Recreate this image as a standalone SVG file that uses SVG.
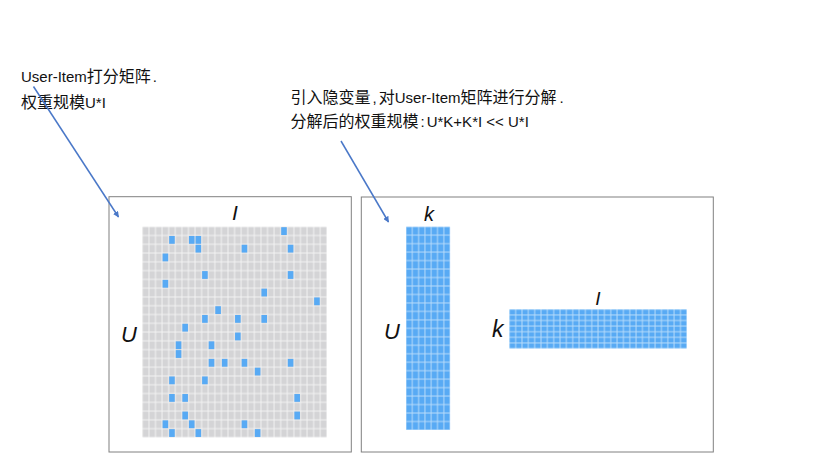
<svg xmlns="http://www.w3.org/2000/svg" width="830" height="463" viewBox="0 0 830 463">
<defs>
<style>
.txt{font-family:"Liberation Sans","Noto Sans CJK SC",sans-serif;font-size:15px;fill:#111}
.cjk{font-size:16px}
.lbl{font-family:"Liberation Sans",sans-serif;font-style:italic;fill:#111}
.box{fill:#fff;stroke:#808080;stroke-width:1}
.conn{stroke:#4a78c8;stroke-width:1.5;fill:none}
.hot{fill:#58aaf4}
</style>
<pattern id="gray" patternUnits="userSpaceOnUse" x="142.3" y="226.7" width="6.59" height="8.78">
<rect x="0.5" y="0.5" width="5.6" height="7.8" fill="#d4d4d6"/>
</pattern>
<pattern id="blueV" patternUnits="userSpaceOnUse" x="406" y="226.7" width="6.3" height="8.47">
<rect x="0.5" y="0.5" width="5.3" height="7.47" fill="#58aaf4"/>
</pattern>
<pattern id="blueH" patternUnits="userSpaceOnUse" x="509.3" y="309.3" width="6.34" height="5.6">
<rect x="0.5" y="0.5" width="5.34" height="4.6" fill="#58aaf4"/>
</pattern>
<marker id="ah" viewBox="0 0 10 10" refX="9" refY="5" markerWidth="6" markerHeight="6" orient="auto" markerUnits="userSpaceOnUse">
<path d="M0,0 L10,5 L0,10 z" fill="#4a78c8"/>
</marker>
</defs>
<rect width="830" height="463" fill="#fff"/>

<g id="note-left">
<text class="txt" x="21" y="82">User-Item<tspan class="cjk">打分矩阵</tspan><tspan dx="2">.</tspan></text>
<text class="txt" x="21" y="108"><tspan class="cjk">权重规模</tspan>U*I</text>
</g>
<g id="note-right">
<text class="txt" x="290.5" y="103"><tspan class="cjk">引入隐变量</tspan><tspan dx="2">,</tspan><tspan class="cjk" dx="2">对</tspan>User-Item<tspan class="cjk">矩阵进行分解</tspan><tspan dx="3">.</tspan></text>
<text class="txt" x="290.5" y="127"><tspan class="cjk">分解后的权重规模</tspan><tspan dx="2">:</tspan><tspan dx="2">U*K+K*I &lt;&lt; U*I</tspan></text>
</g>

<g id="matrix-ui">
<rect class="box" x="109" y="196.7" width="242.3" height="255.3"/>
<rect x="142.3" y="226.7" width="184.5" height="210.7" fill="#f2f2f2"/>
<rect x="142.3" y="226.7" width="184.5" height="210.7" fill="url(#gray)"/>
<g id="hot-cells" transform="translate(142.3,226.7)">
<rect class="hot" x="138.89" y="0.5" width="5.6" height="7.8"/>
<rect class="hot" x="26.86" y="9.28" width="5.6" height="7.8"/>
<rect class="hot" x="46.63" y="9.28" width="5.6" height="7.8"/>
<rect class="hot" x="53.22" y="9.28" width="5.6" height="7.8"/>
<rect class="hot" x="53.22" y="18.06" width="5.6" height="7.8"/>
<rect class="hot" x="99.35" y="18.06" width="5.6" height="7.8"/>
<rect class="hot" x="145.48" y="18.06" width="5.6" height="7.8"/>
<rect class="hot" x="20.27" y="26.84" width="5.6" height="7.8"/>
<rect class="hot" x="59.81" y="44.4" width="5.6" height="7.8"/>
<rect class="hot" x="145.48" y="44.4" width="5.6" height="7.8"/>
<rect class="hot" x="20.27" y="53.18" width="5.6" height="7.8"/>
<rect class="hot" x="119.12" y="61.96" width="5.6" height="7.8"/>
<rect class="hot" x="171.84" y="70.74" width="5.6" height="7.8"/>
<rect class="hot" x="72.99" y="79.52" width="5.6" height="7.8"/>
<rect class="hot" x="59.81" y="88.3" width="5.6" height="7.8"/>
<rect class="hot" x="92.76" y="88.3" width="5.6" height="7.8"/>
<rect class="hot" x="119.12" y="88.3" width="5.6" height="7.8"/>
<rect class="hot" x="40.04" y="97.08" width="5.6" height="7.8"/>
<rect class="hot" x="92.76" y="105.86" width="5.6" height="7.8"/>
<rect class="hot" x="33.45" y="114.64" width="5.6" height="7.8"/>
<rect class="hot" x="66.4" y="114.64" width="5.6" height="7.8"/>
<rect class="hot" x="33.45" y="123.42" width="5.6" height="7.8"/>
<rect class="hot" x="66.4" y="132.2" width="5.6" height="7.8"/>
<rect class="hot" x="79.58" y="132.2" width="5.6" height="7.8"/>
<rect class="hot" x="99.35" y="132.2" width="5.6" height="7.8"/>
<rect class="hot" x="145.48" y="132.2" width="5.6" height="7.8"/>
<rect class="hot" x="112.53" y="140.98" width="5.6" height="7.8"/>
<rect class="hot" x="26.86" y="149.76" width="5.6" height="7.8"/>
<rect class="hot" x="59.81" y="149.76" width="5.6" height="7.8"/>
<rect class="hot" x="26.86" y="167.32" width="5.6" height="7.8"/>
<rect class="hot" x="40.04" y="167.32" width="5.6" height="7.8"/>
<rect class="hot" x="152.07" y="167.32" width="5.6" height="7.8"/>
<rect class="hot" x="40.04" y="184.88" width="5.6" height="7.8"/>
<rect class="hot" x="152.07" y="184.88" width="5.6" height="7.8"/>
<rect class="hot" x="20.27" y="193.66" width="5.6" height="7.8"/>
<rect class="hot" x="46.63" y="193.66" width="5.6" height="7.8"/>
<rect class="hot" x="99.35" y="193.66" width="5.6" height="7.8"/>
<rect class="hot" x="26.86" y="202.44" width="5.6" height="7.8"/>
<rect class="hot" x="53.22" y="202.44" width="5.6" height="7.8"/>
<rect class="hot" x="112.53" y="202.44" width="5.6" height="7.8"/>
</g>
<text class="lbl" x="235" y="220" font-size="21" text-anchor="middle">I</text>
<text class="lbl" x="121" y="342" font-size="22">U</text>
</g>

<g id="matrix-factors">
<rect class="box" x="361.3" y="197" width="352" height="255"/>
<g id="matrix-uk">
<rect x="406" y="226.7" width="44.1" height="203.3" fill="#b5dafa"/>
<rect x="406" y="226.7" width="44.1" height="203.3" fill="url(#blueV)"/>
<text class="lbl" x="429" y="221" font-size="20" text-anchor="middle">k</text>
<text class="lbl" x="384" y="339" font-size="22">U</text>
</g>
<g id="matrix-ki">
<rect x="509.3" y="309.3" width="177.5" height="39.2" fill="#b5dafa"/>
<rect x="509.3" y="309.3" width="177.5" height="39.2" fill="url(#blueH)"/>
<text class="lbl" x="598" y="305" font-size="19" text-anchor="middle">I</text>
<text class="lbl" x="492" y="337" font-size="23">k</text>
</g>
</g>

<g id="connectors">
<line class="conn" x1="33.5" y1="86.5" x2="118.5" y2="217" marker-end="url(#ah)"/>
<line class="conn" x1="341" y1="141" x2="388.5" y2="222" marker-end="url(#ah)"/>
</g>
</svg>
